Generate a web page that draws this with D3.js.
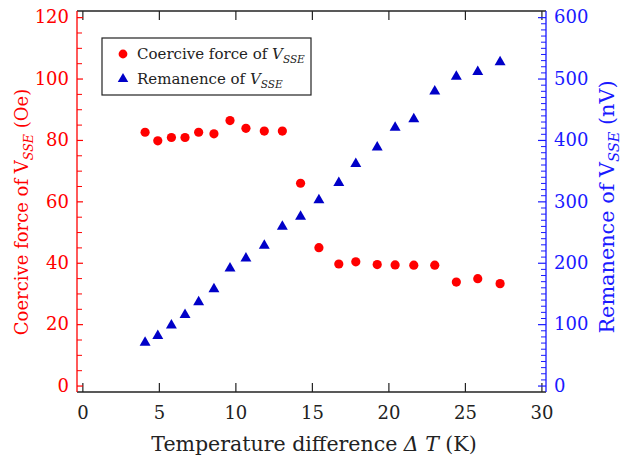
<!DOCTYPE html>
<html><head><meta charset="utf-8">
<script src="https://cdn.jsdelivr.net/npm/d3@7"></script>
<style>body{margin:0;background:#fff}svg{display:block}</style>
</head><body>
<svg id="c" width="630" height="457"></svg>
<script>
const deltaT = [4.1,4.93,5.82,6.71,7.6,8.6,9.65,10.69,11.89,13.07,14.26,15.46,16.76,17.87,19.27,20.44,21.66,23.03,24.44,25.84,27.3];
const coercive = [82.5,79.7,80.8,80.8,82.5,82.0,86.3,83.8,82.9,82.9,65.9,44.9,39.6,40.3,39.4,39.3,39.2,39.2,33.7,34.8,33.2];
const remanence = [70,81,98,115,136,157,191,207,228,259,275,302,330,361,388,420,434,479,503,511,527];
const xTicks = [0,5,10,15,20,25,30];
const yLeftTicks = [0,20,40,60,80,100,120];
const yRightTicks = [0,100,200,300,400,500,600];

const FONT = "DejaVu Serif";
const RED = "#ff0000", BLUE = "#1a1aff", DBLUE = "#0000c8", BLK = "#222";
const L = 77, R = 546, T = 11, B = 392;
const svg = d3.select("#c");
const x = d3.scaleLinear().domain([-0.35, 30.3]).range([L, R]);
const yL = d3.scaleLinear().domain([-2.1, 122]).range([B, T]);
const yR = d3.scaleLinear().domain([-10.5, 610]).range([B, T]);

svg.append("line").attr("x1", L).attr("x2", R).attr("y1", T).attr("y2", T).attr("stroke", BLK).attr("stroke-width", 1.3);
svg.append("line").attr("x1", L).attr("x2", R).attr("y1", B).attr("y2", B).attr("stroke", BLK).attr("stroke-width", 1.3);

const gxb = svg.append("g").attr("transform", `translate(0,${B})`)
  .call(d3.axisBottom(x).tickValues(xTicks).tickSize(-9).tickPadding(14).tickFormat(d3.format("d")));
gxb.select(".domain").remove();
gxb.attr("font-family", FONT);
gxb.selectAll("line").attr("stroke", BLK).attr("stroke-width", 1.2);
gxb.selectAll("text").attr("font-size", 18).attr("fill", BLK);
const gxt = svg.append("g").attr("transform", `translate(0,${T})`)
  .call(d3.axisTop(x).tickValues(xTicks).tickSize(-9).tickFormat(""));
gxt.select(".domain").remove();
gxt.selectAll("line").attr("stroke", BLK).attr("stroke-width", 1.2);

const gl = svg.append("g").attr("transform", `translate(${L},0)`)
  .call(d3.axisLeft(yL).tickValues(yLeftTicks).tickSize(-6).tickPadding(8).tickFormat(d3.format("d")));
gl.attr("font-family", FONT);
gl.select(".domain").attr("d", `M0,${T}V${B}`).attr("stroke", RED).attr("stroke-width", 1.3);
gl.selectAll("line").attr("stroke", RED).attr("stroke-width", 1.2);
gl.selectAll("text").attr("font-size", 18).attr("fill", RED);
const glm = svg.append("g").attr("transform", `translate(${L},0)`)
  .call(d3.axisLeft(yL).tickValues(d3.range(0, 121, 5).filter(v => v % 20)).tickSize(-5).tickFormat(""));
glm.select(".domain").remove();
glm.selectAll("line").attr("stroke", RED).attr("stroke-width", 1);

const gr = svg.append("g").attr("transform", `translate(${R},0)`)
  .call(d3.axisRight(yR).tickValues(yRightTicks).tickSize(-8).tickPadding(8).tickFormat(d3.format("d")));
gr.attr("font-family", FONT);
gr.select(".domain").attr("d", `M0,${T}V${B}`).attr("stroke", BLUE).attr("stroke-width", 1.3);
gr.selectAll("line").attr("stroke", BLUE).attr("stroke-width", 1.2);
gr.selectAll("text").attr("font-size", 18).attr("fill", BLUE);
const grm = svg.append("g").attr("transform", `translate(${R},0)`)
  .call(d3.axisRight(yR).tickValues(d3.range(0, 601, 10).filter(v => v % 100)).tickSize(-5).tickFormat(""));
grm.select(".domain").remove();
grm.selectAll("line").attr("stroke", BLUE).attr("stroke-width", 1);

svg.append("g").selectAll("path").data(deltaT).join("path")
  .attr("d", d3.symbol(d3.symbolTriangle, 52)())
  .attr("transform", (d, i) => `translate(${x(d)},${yR(remanence[i])})`)
  .attr("fill", DBLUE);
svg.append("g").selectAll("circle").data(deltaT).join("circle")
  .attr("cx", d => x(d)).attr("cy", (d, i) => yL(coercive[i])).attr("r", 4.6).attr("fill", RED);

svg.append("rect").attr("x", 102).attr("y", 38).attr("width", 209).attr("height", 57)
  .attr("fill", "#fff").attr("stroke", BLK).attr("stroke-width", 1.2);
svg.append("circle").attr("cx", 123).attr("cy", 54).attr("r", 4.4).attr("fill", RED);
svg.append("path").attr("d", d3.symbol(d3.symbolTriangle, 48)()).attr("transform", "translate(123,79)").attr("fill", DBLUE);
function legendText(y, label) {
  const t = svg.append("text").attr("x", 137).attr("y", y).attr("font-size", 15).attr("fill", BLK).attr("font-family", FONT);
  t.append("tspan").text(label + " of ");
  t.append("tspan").attr("font-style", "italic").text("V");
  t.append("tspan").attr("font-style", "italic").attr("font-size", 10.5).attr("dy", 4).text("SSE");
}
legendText(59, "Coercive force");
legendText(84, "Remanence");

const xl = svg.append("text").attr("x", 314).attr("y", 451).attr("text-anchor", "middle").attr("font-size", 20.5).attr("fill", BLK).attr("font-family", FONT);
xl.append("tspan").text("Temperature difference ");
xl.append("tspan").attr("font-style", "italic").text("\u0394 T");
xl.append("tspan").text(" (K)");

function yTitle(cx, cy, size, label, unit, color) {
  const t = svg.append("text").attr("transform", `translate(${cx},${cy}) rotate(-90)`)
    .attr("text-anchor", "middle").attr("font-size", size).attr("fill", color).attr("font-family", FONT);
  t.append("tspan").text(label + " of V");
  t.append("tspan").attr("font-style", "italic").attr("font-size", size * 0.7).attr("dy", 5).text("SSE");
  t.append("tspan").attr("dy", -5).text(" " + unit);
}
yTitle(28, 212, 18, "Coercive force", "(Oe)", RED);
yTitle(614, 207, 20.8, "Remanence", "(nV)", BLUE);
</script>
</body></html>
